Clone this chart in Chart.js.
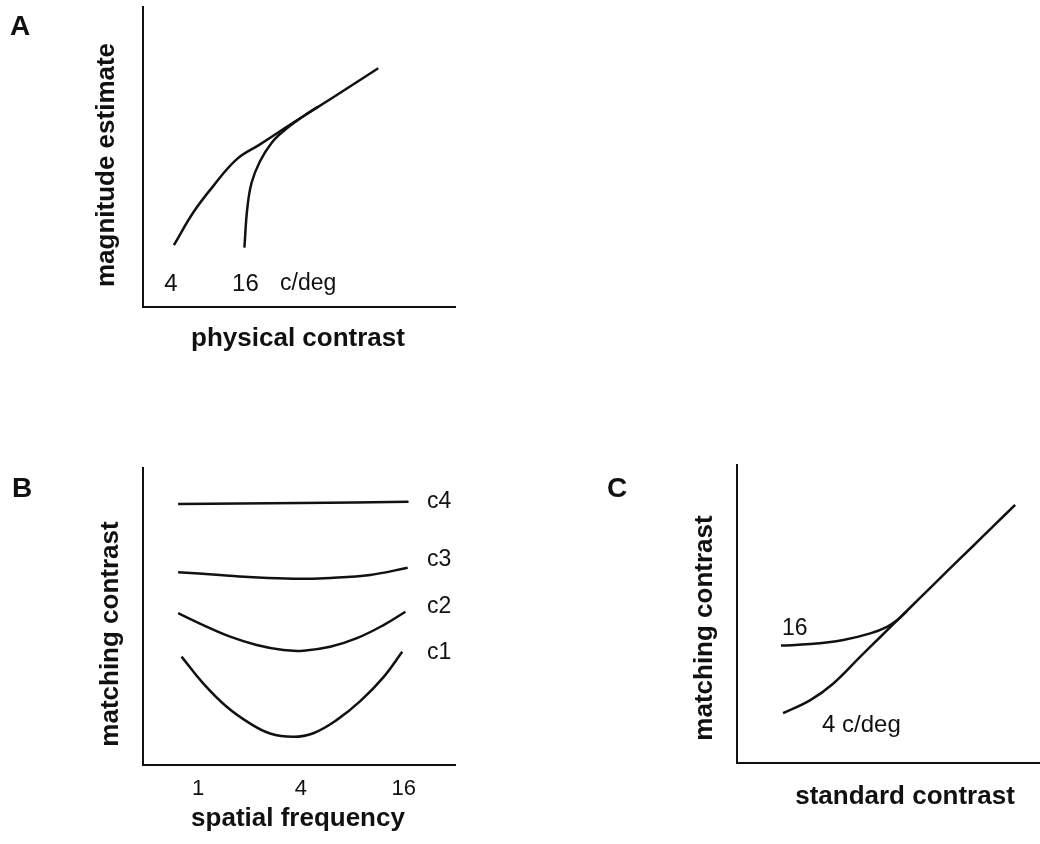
<!DOCTYPE html>
<html>
<head>
<meta charset="utf-8">
<title>Contrast matching across spatial frequency</title>
<script src="https://cdn.jsdelivr.net/npm/chart.js@4.4.0/dist/chart.umd.min.js"></script>
<style>
  body { margin: 0; background: #fff; width: 1040px; height: 844px; position: relative; overflow: hidden; }
  .panel { position: absolute; }
</style>
</head>
<body>
<div class="panel" style="left:0;top:0;width:470px;height:380px"><canvas id="chartA"></canvas></div>
<div class="panel" style="left:0;top:440px;width:470px;height:404px"><canvas id="chartB"></canvas></div>
<div class="panel" style="left:600px;top:440px;width:440px;height:404px"><canvas id="chartC"></canvas></div>
<script>
// Panel A: magnitude estimate vs physical contrast (arbitrary 0-100 units)
const contrastA4 = [9.9, 16.1, 22.5, 30.0, 37.5, 45.0, 51.4, 61.0, 75.4];
const estimateA4 = [20.6, 31.5, 40.3, 49.2, 54.2, 59.3, 63.6, 69.9, 79.6];
const contrastA16 = [32.5, 33.4, 34.8, 37.5, 41.2, 45.0, 51.4, 56.0];
const estimateA16 = [19.8, 32.6, 41.4, 48.6, 54.7, 58.6, 63.6, 66.7];

// Panel B: matching contrast vs spatial frequency (c/deg), one curve per standard contrast
const freqTicks = [1, 4, 16];
const freqC4 = [0.763, 4.0, 17.1];
const matchC4 = [87.9, 88.2, 88.6];
const freqC3 = [0.763, 1.34, 2.10, 3.61, 5.94, 10.2, 16.9];
const matchC3 = [64.9, 64.0, 63.2, 62.7, 63.0, 64.0, 66.4];
const freqC2 = [0.763, 1.07, 1.54, 2.20, 3.16, 4.14, 5.94, 8.52, 12.2, 16.4];
const matchC2 = [51.1, 47.1, 43.2, 40.4, 38.7, 38.5, 39.8, 42.7, 47.1, 51.6];
const freqC1 = [0.799, 1.07, 1.47, 2.01, 2.64, 3.61, 4.73, 6.50, 8.91, 12.2, 15.7];
const matchC1 = [36.5, 27.5, 19.6, 14.0, 10.6, 9.5, 10.7, 15.2, 21.5, 29.6, 38.1];

// Panel C: matching contrast vs standard contrast
const standardC4 = [15.2, 24.2, 31.8, 40.7, 47.2, 53.3, 60.4, 69.2, 78.0, 84.6, 91.8];
const matchingC4 = [16.7, 21.1, 26.7, 35.7, 42.2, 48.3, 55.4, 64.2, 72.9, 79.5, 86.6];
const standardC16 = [14.5, 24.2, 35.1, 44.0, 49.5, 53.3, 56.0];
const matchingC16 = [39.4, 39.9, 41.3, 43.5, 45.7, 48.3, 50.9];

const ink = '#111';
const family = '"Liberation Sans", Arial, sans-serif';
const titleFont = 'bold 26px ' + family;
const letterFont = 'bold 28px ' + family;
const labelFont = '24px ' + family;
const smallFont = '23px ' + family;

function pts(xs, ys) {
  return xs.map((x, i) => ({ x: x, y: ys[i] }));
}

function curve(data) {
  return {
    data: data,
    borderColor: ink,
    borderWidth: 2.5,
    pointRadius: 0,
    fill: false,
    tension: 0.4
  };
}

// draws titles, panel letters and curve labels; dataX anchors a label to the x scale
function textLayer(items) {
  return {
    id: 'textLayer',
    afterDraw(chart) {
      const ctx = chart.ctx;
      items.forEach(t => {
        let x = t.x;
        if (t.dataX !== undefined) x = chart.scales.x.getPixelForValue(t.dataX) + (t.dx || 0);
        ctx.save();
        ctx.font = t.font;
        ctx.fillStyle = ink;
        ctx.textAlign = t.align || 'center';
        ctx.textBaseline = t.baseline || 'middle';
        ctx.translate(x, t.y);
        if (t.rot) ctx.rotate(t.rot);
        ctx.fillText(t.text, 0, 0);
        ctx.restore();
      });
    }
  };
}

function axes(xOpts, yWidth, xHeight) {
  const border = { display: true, color: ink, width: 2 };
  return {
    x: Object.assign({
      type: 'linear', min: 0, max: 100,
      grid: { display: false, drawTicks: false },
      border: border,
      ticks: { display: false },
      afterFit(scale) { scale.height = xHeight; }
    }, xOpts),
    y: {
      type: 'linear', min: 0, max: 100,
      grid: { display: false, drawTicks: false },
      border: border,
      ticks: { display: false },
      afterFit(scale) { scale.width = yWidth; }
    }
  };
}

function baseOptions(padding, scales) {
  return {
    responsive: true,
    maintainAspectRatio: false,
    animation: false,
    layout: { padding: padding },
    plugins: { legend: { display: false }, tooltip: { enabled: false } },
    scales: scales
  };
}

new Chart(document.getElementById('chartA'), {
  type: 'line',
  data: { datasets: [curve(pts(contrastA4, estimateA4)), curve(pts(contrastA16, estimateA16))] },
  options: baseOptions({ top: 7, right: 15, left: 0, bottom: 0 }, axes({}, 143, 73)),
  plugins: [textLayer([
    { text: 'A', x: 10, y: 35, font: letterFont, align: 'left', baseline: 'alphabetic' },
    { text: 'magnitude estimate', x: 107, y: 165, rot: -Math.PI / 2, font: titleFont },
    { text: 'physical contrast', x: 298, y: 339, font: titleFont },
    { text: '4', dataX: contrastA4[0], dx: -3, y: 284, font: labelFont },
    { text: '16', dataX: contrastA16[0], dx: 1, y: 284, font: labelFont },
    { text: 'c/deg', x: 280, y: 284, font: smallFont, align: 'left' }
  ])]
});

new Chart(document.getElementById('chartB'), {
  type: 'line',
  data: {
    datasets: [
      curve(pts(freqC4, matchC4)),
      curve(pts(freqC3, matchC3)),
      curve(pts(freqC2, matchC2)),
      curve(pts(freqC1, matchC1))
    ]
  },
  options: baseOptions({ top: 28, right: 15, left: 0, bottom: 0 }, axes({
    type: 'logarithmic', min: 0.475, max: 32,
    ticks: {
      display: true, padding: 11, color: ink,
      font: { family: family, size: 22 },
      callback: v => String(v)
    },
    afterBuildTicks(scale) { scale.ticks = freqTicks.map(v => ({ value: v })); }
  }, 143, 79)),
  plugins: [textLayer([
    { text: 'B', x: 12, y: 57, font: letterFont, align: 'left', baseline: 'alphabetic' },
    { text: 'matching contrast', x: 111, y: 194, rot: -Math.PI / 2, font: titleFont },
    { text: 'spatial frequency', x: 298, y: 379, font: titleFont },
    { text: 'c4', x: 427, y: 62, font: smallFont, align: 'left' },
    { text: 'c3', x: 427, y: 120, font: smallFont, align: 'left' },
    { text: 'c2', x: 427, y: 167, font: smallFont, align: 'left' },
    { text: 'c1', x: 427, y: 213, font: smallFont, align: 'left' }
  ])]
});

new Chart(document.getElementById('chartC'), {
  type: 'line',
  data: { datasets: [curve(pts(standardC4, matchingC4)), curve(pts(standardC16, matchingC16))] },
  options: baseOptions({ top: 25, right: 0, left: 0, bottom: 0 }, axes({}, 137, 81)),
  plugins: [textLayer([
    { text: 'C', x: 7, y: 57, font: letterFont, align: 'left', baseline: 'alphabetic' },
    { text: 'matching contrast', x: 105, y: 188, rot: -Math.PI / 2, font: titleFont },
    { text: 'standard contrast', x: 305, y: 357, font: titleFont },
    { text: '16', dataX: standardC16[0], dx: 1, y: 189, font: smallFont, align: 'left' },
    { text: '4 c/deg', x: 222, y: 285, font: '24px ' + family, align: 'left' }
  ])]
});
</script>
</body>
</html>
